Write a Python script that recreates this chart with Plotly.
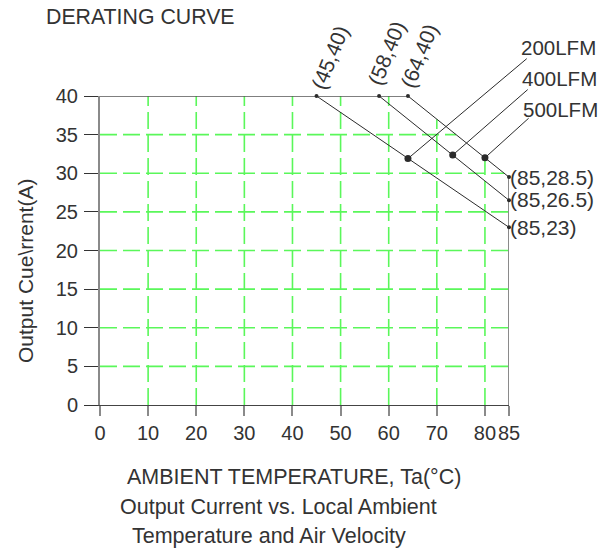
import plotly.graph_objects as go
import numpy as np

# ---- data ----
temp_200 = [45, 85]
cur_200 = [40, 23]
temp_400 = [58, 85]
cur_400 = [40, 26.5]
temp_500 = [64, 85]
cur_500 = [40, 29.5]
start_labels = ["(45,40)", "(58,40)", "(64,40)"]
end_labels = ["(85,23)", "(85,26.5)", "(85,28.5)"]
flow_names = ["200LFM", "400LFM", "500LFM"]
marker_temp = [64, 73.3, 80]
marker_cur = [31.9, 32.35, 32.0]
leader_temp = [89.0, 89.2, 89.4]
leader_cur = [45.0, 41.0, 37.3]
x_ticks = [0, 10, 20, 30, 40, 50, 60, 70, 80, 85]
y_ticks = [0, 5, 10, 15, 20, 25, 30, 35, 40]
x_grid = [10, 20, 30, 40, 50, 60, 70, 80]
y_grid = [5, 10, 15, 20, 25, 30, 35]

X_RANGE = [0, 85]
Y_RANGE = [0, 40]

FONT = "Liberation Sans, Arial, sans-serif"
TXT = "#333333"
GREEN = "#5af75a"
DARK = "#2b2b2b"

W, H = 602, 552
PL, PR, PT, PB = 100, 509, 96, 405          # plot box in window pixels
ML, MT = PL, PT
MR = W - PR
MB = H - PB


def px(xp):
    return (xp - PL) / (PR - PL)


def py(yp):
    return (PB - yp) / (PB - PT)


def dx(v):
    return (v - X_RANGE[0]) / (X_RANGE[1] - X_RANGE[0])


def dy(v):
    return (v - Y_RANGE[0]) / (Y_RANGE[1] - Y_RANGE[0])


env_x = [0] + temp_500
env_y = [40] + cur_500


def env_top(x):
    return float(np.interp(x, env_x, env_y))


def env_right(y):
    if y <= cur_500[-1]:
        return temp_500[-1]
    return float(np.interp(y, cur_500[::-1], temp_500[::-1]))


gx, gy = [], []
for xv in x_grid:
    gx += [xv, xv, None]
    gy += [0, env_top(xv), None]
for yv in y_grid:
    gx += [0, env_right(yv), None]
    gy += [yv, yv, None]

fig = go.Figure()
fig.add_trace(go.Scatter(x=gx, y=gy, mode="lines",
                         line=dict(color=GREEN, width=1.6, dash="17px,6px"),
                         hoverinfo="skip"))

fig.add_trace(go.Scatter(x=[0, temp_500[0]], y=[cur_500[0], cur_500[0]], mode="lines",
                         line=dict(color="#555555", width=1.5), hoverinfo="skip"))
fig.add_trace(go.Scatter(x=[temp_500[-1], temp_500[-1]], y=[cur_500[-1], 0], mode="lines",
                         line=dict(color="#8a8a8a", width=2), hoverinfo="skip"))

curves = [(temp_200, cur_200), (temp_400, cur_400), (temp_500, cur_500)]
for tx, cy in curves:
    fig.add_trace(go.Scatter(x=tx, y=cy, mode="lines+markers",
                             line=dict(color=DARK, width=1),
                             marker=dict(color=DARK, size=4),
                             hoverinfo="skip", cliponaxis=False))

fig.add_trace(go.Scatter(x=marker_temp, y=marker_cur, mode="markers",
                         marker=dict(color=DARK, size=7), hoverinfo="skip"))

ann = []
lab_font = dict(family=FONT, size=21, color=TXT)
big_font = dict(family=FONT, size=21.5, color=TXT)
for i in range(3):
    ann.append(dict(x=marker_temp[i], y=marker_cur[i], xref="x", yref="y",
                    ax=leader_temp[i], ay=leader_cur[i], axref="x", ayref="y",
                    text="", showarrow=True, arrowhead=0, arrowwidth=1,
                    arrowcolor=DARK, standoff=0, startstandoff=0))
    ann.append(dict(x=dx(leader_temp[i]), y=dy(leader_cur[i]), xref="paper", yref="paper",
                    text=flow_names[i], showarrow=False, xanchor="left",
                    yanchor="middle", xshift=-9, yshift=[10, 10, 7.5][i],
                    font=dict(family=FONT, size=20.5, color=TXT)))

for i, (tx, cy) in enumerate(curves):
    ann.append(dict(x=tx[0], y=cy[0], xref="x", yref="y", text=start_labels[i],
                    showarrow=False, textangle=-68, xanchor="center", yanchor="middle",
                    xshift=[13, 7, 11][i], yshift=[39, 43, 41][i],
                    font=lab_font))
    ann.append(dict(x=dx(tx[-1]), y=dy(cy[-1]), xref="paper", yref="paper",
                    text=end_labels[i],
                    showarrow=False, xanchor="left", yanchor="middle", xshift=-1,
                    yshift=[0, 1, 0][i], font=lab_font))

ann.append(dict(x=px(44), y=py(17.5), xref="paper", yref="paper", text="DERATING CURVE",
                showarrow=False, xanchor="left", yanchor="middle",
                font=dict(family=FONT, size=21.3, color=TXT)))
ann.append(dict(x=px(25), y=py(271), xref="paper", yref="paper",
                text="Output Cue\\rrent(A)", textangle=-90,
                showarrow=False, xanchor="center", yanchor="middle", font=lab_font))
ann.append(dict(x=px(125), y=py(477), xref="paper", yref="paper",
                text="AMBIENT TEMPERATURE, Ta(°C)",
                showarrow=False, xanchor="left", yanchor="middle", font=big_font))
ann.append(dict(x=px(118), y=py(506.5), xref="paper", yref="paper",
                text="Output Current vs. Local Ambient",
                showarrow=False, xanchor="left", yanchor="middle", font=big_font))
ann.append(dict(x=px(130), y=py(536), xref="paper", yref="paper",
                text="Temperature and Air Velocity",
                showarrow=False, xanchor="left", yanchor="middle", font=big_font))

fig.update_layout(
    width=W, height=H,
    margin=dict(l=ML, r=MR, t=MT, b=MB, autoexpand=False),
    paper_bgcolor="white", plot_bgcolor="white",
    showlegend=False,
    annotations=ann,
    font=dict(family=FONT, size=21, color=TXT),
    xaxis=dict(range=X_RANGE, tickmode="array", tickvals=x_ticks,
               ticktext=[str(v) for v in x_ticks], tickangle=0, automargin=False,
               showgrid=False, zeroline=False,
               showline=True, linecolor="#444444", linewidth=1,
               ticks="outside", tickcolor="#8a8a8a", tickwidth=2, ticklen=10,
               tickfont=dict(family=FONT, size=20, color=TXT)),
    yaxis=dict(range=Y_RANGE, tickmode="array", tickvals=y_ticks, automargin=False,
               showgrid=False, zeroline=False,
               showline=True, linecolor="#8a8a8a", linewidth=2,
               ticks="outside", tickcolor="#333333", tickwidth=1, ticklen=14,
               ticklabelstandoff=2,
               tickfont=dict(family=FONT, size=20, color=TXT)),
)

fig.write_html("out.html",
               config={"displayModeBar": False, "staticPlot": True},
               post_script="document.body.style.margin='0';"
                           "document.body.style.overflow='hidden';")
